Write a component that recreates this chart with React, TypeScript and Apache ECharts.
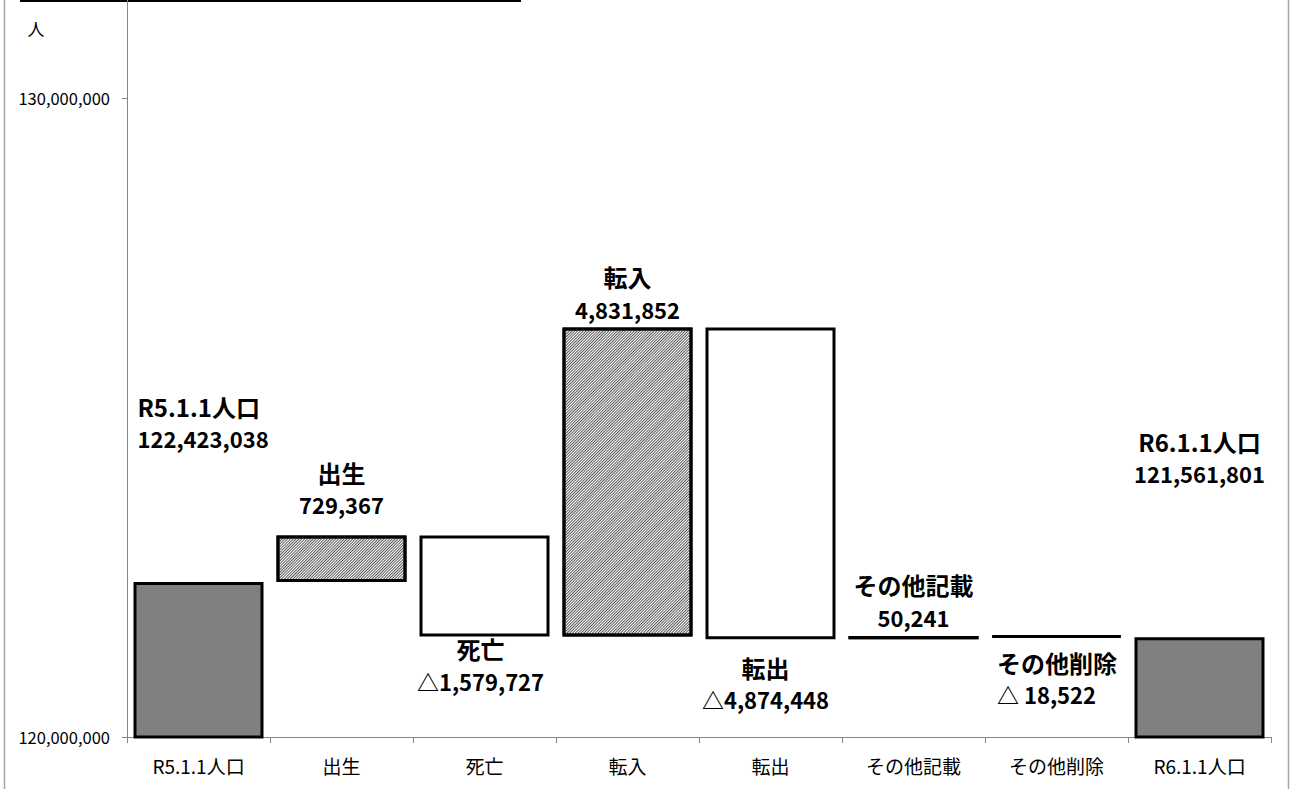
import React, { useEffect, useRef } from 'react';
import * as echarts from 'echarts';

const categories = ['R5.1.1人口', '出生', '死亡', '転入', '転出', 'その他記載', 'その他削除', 'R6.1.1人口'];
const startPopulation = 122423038;
const changes = [729367, -1579727, 4831852, -4874448, 50241, -18522];
const endPopulation = 121561801;
const valueLabels = ['122,423,038', '729,367', '△1,579,727', '4,831,852', '△4,874,448', '50,241', '△ 18,522', '121,561,801'];
const yTickValues = [120000000, 130000000];
const yMin = 120000000;
const yMax = 131530000;

const FONT = "'Noto Sans CJK JP', 'Noto Sans', sans-serif";

// label placement (styling only)
const labelLayouts: { pos: 'top' | 'bottom'; dx: number; dy: number; align: 'left' | 'center' }[] = [
  { pos: 'top', dx: -61, dy: -128, align: 'left' },
  { pos: 'top', dx: 0, dy: -15, align: 'center' },
  { pos: 'bottom', dx: -4, dy: -3.5, align: 'center' },
  { pos: 'top', dx: 0, dy: -3, align: 'center' },
  { pos: 'bottom', dx: -5, dy: 12, align: 'center' },
  { pos: 'top', dx: 0, dy: -3, align: 'center' },
  { pos: 'bottom', dx: -59.5, dy: 8, align: 'left' },
  { pos: 'top', dx: 0, dy: -148, align: 'center' },
];

export default function App() {
  const ref = useRef<HTMLDivElement>(null);

  useEffect(() => {
    if (!ref.current) return;
    const chart = echarts.init(ref.current, undefined, { renderer: 'svg' });

    const bases: number[] = [0];
    const heights: number[] = [startPopulation];
    const kinds: string[] = ['total'];
    let running = startPopulation;
    changes.forEach((d) => {
      if (d >= 0) {
        bases.push(running);
        heights.push(d);
        kinds.push('up');
      } else {
        bases.push(running + d);
        heights.push(-d);
        kinds.push('down');
      }
      running += d;
    });
    bases.push(0);
    heights.push(endPopulation);
    kinds.push('total');

    const hatch = {
      symbol: 'rect',
      symbolSize: 1,
      dashArrayX: [1, 0],
      dashArrayY: [1, 1],
      rotation: -Math.PI / 4,
      color: '#5a5a5a',
      backgroundColor: 'rgba(0,0,0,0)',
    };

    const visibleData = heights.map((h, i) => {
      const kind = kinds[i];
      const lay = labelLayouts[i];
      const itemStyle: any = {
        color: kind === 'total' ? '#808080' : '#ffffff',
        borderColor: '#000',
        borderWidth: 3,
      };
      if (kind === 'up') itemStyle.decal = hatch;
      return {
        value: h,
        itemStyle,
        label: {
          show: true,
          position: lay.pos,
          distance: 0,
          offset: [lay.dx, lay.dy],
          align: lay.align,
          formatter: () => `{n|${categories[i]}}\n{v|${valueLabels[i]}}`,
        },
      };
    });

    chart.setOption({
      animation: false,
      textStyle: { fontFamily: FONT },
      grid: { left: 127, right: 19, top: 0, bottom: 52, containLabel: false },
      xAxis: {
        type: 'category',
        data: categories,
        axisLine: { show: true, lineStyle: { color: '#868686', width: 1 } },
        axisTick: { show: true, length: 6, alignWithLabel: false, interval: 0, lineStyle: { color: '#868686' } },
        axisLabel: { interval: 0, fontSize: 19, color: '#000', margin: 19, fontFamily: FONT },
        splitLine: { show: false },
      },
      yAxis: {
        type: 'value',
        min: yMin,
        max: yMax,
        axisLine: { show: true, lineStyle: { color: '#868686', width: 1 } },
        axisTick: { show: true, length: 5, customValues: yTickValues, lineStyle: { color: '#868686' } },
        axisLabel: {
          customValues: yTickValues,
          fontSize: 16.5,
          color: '#000',
          margin: 17,
          fontFamily: FONT,
          formatter: (v: number) => v.toLocaleString('en-US'),
        },
        splitLine: { show: false },
      },
      series: [
        {
          type: 'bar',
          stack: 'wf',
          silent: true,
          barWidth: 130,
          itemStyle: { color: 'rgba(0,0,0,0)', borderWidth: 0 },
          data: bases,
        },
        {
          type: 'bar',
          stack: 'wf',
          barWidth: 130,
          label: {
            color: '#000',
            fontFamily: FONT,
            fontWeight: 'bold',
            rich: {
              n: { fontSize: 24, fontWeight: 'bold', lineHeight: 32, color: '#000', fontFamily: FONT },
              v: { fontSize: 22, fontWeight: 'bold', lineHeight: 32, color: '#000', fontFamily: FONT },
            },
          },
          data: visibleData,
        },
      ],
      graphic: [
        { type: 'line', shape: { x1: 4.5, y1: 0, x2: 4.5, y2: 789 }, style: { stroke: '#a6a6a6', lineWidth: 1.5 }, silent: true },
        { type: 'line', shape: { x1: 1288.5, y1: 0, x2: 1288.5, y2: 789 }, style: { stroke: '#a6a6a6', lineWidth: 1.5 }, silent: true },
        { type: 'line', shape: { x1: 20, y1: 1, x2: 521, y2: 1 }, style: { stroke: '#000', lineWidth: 2 }, silent: true },
        {
          type: 'text',
          x: 36,
          y: 28,
          style: { text: '人', fontSize: 17, fill: '#000', fontFamily: FONT, align: 'center', verticalAlign: 'middle' },
          silent: true,
        },
      ],
    });

    return () => chart.dispose();
  }, []);

  return <div ref={ref} style={{ position: 'absolute', left: 0, top: 0, width: 1290, height: 789 }} />;
}
